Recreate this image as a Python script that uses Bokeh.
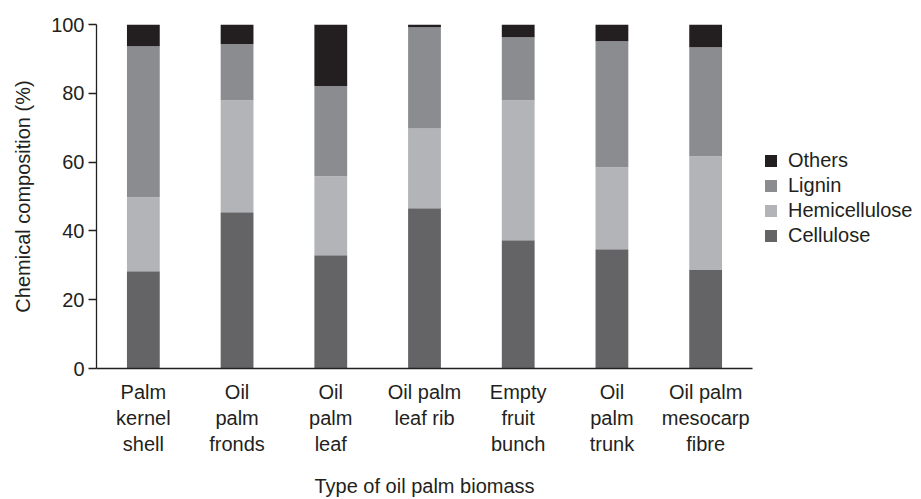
from bokeh.plotting import figure
from bokeh.models import FactorRange, Range1d, Legend, LegendItem, FixedTicker
from bokeh.embed import file_html
from bokeh.resources import INLINE

categories = ["Palm\nkernel\nshell", "Oil\npalm\nfronds", "Oil\npalm\nleaf", "Oil palm\nleaf rib",
              "Empty\nfruit\nbunch", "Oil\npalm\ntrunk", "Oil palm\nmesocarp\nfibre"]
cellulose = [28.3, 45.4, 32.9, 46.6, 37.3, 34.7, 28.6]
hemicellulose = [21.5, 32.6, 23.0, 23.2, 40.7, 23.8, 33.1]
lignin = [43.9, 16.3, 26.2, 29.4, 18.3, 36.6, 31.7]
others = [6.3, 5.7, 17.9, 0.8, 3.7, 4.9, 6.6]
y_ticks = [0, 20, 40, 60, 80, 100]

series = ["Cellulose", "Hemicellulose", "Lignin", "Others"]
colors = ["#646466", "#b3b4b7", "#8b8c90", "#231f20"]
data = {"cat": categories, "Cellulose": cellulose, "Hemicellulose": hemicellulose,
        "Lignin": lignin, "Others": others}

FONT = "Liberation Sans"
TXT = "#231f20"
FS = "20px"

p = figure(frame_width=656, frame_height=344, output_backend="svg", toolbar_location=None,
           x_range=FactorRange(factors=categories, range_padding=0),
           y_range=Range1d(0, 100),
           min_border_left=96, min_border_top=24, min_border_right=169, min_border_bottom=100)

rs = p.vbar_stack(series, x="cat", width=0.35, color=colors, line_color=None, source=data)

legend = Legend(items=[LegendItem(label=s, renderers=[r]) for s, r in reversed(list(zip(series, rs)))],
                location=(11, 121), orientation="vertical")
legend.glyph_width = 15
legend.glyph_height = 15
legend.label_standoff = 10
legend.spacing = 2
legend.padding = 0
legend.margin = 0
legend.border_line_color = None
legend.background_fill_alpha = 0
legend.label_text_font = FONT
legend.label_text_font_size = FS
legend.label_text_color = TXT
legend.label_height = 20
p.add_layout(legend, "right")

p.xgrid.grid_line_color = None
p.ygrid.grid_line_color = None
p.outline_line_color = None

for ax in (p.xaxis[0], p.yaxis[0]):
    ax.axis_line_color = TXT
    ax.axis_line_width = 1.3
    ax.major_label_text_font = FONT
    ax.major_label_text_font_size = FS
    ax.major_label_text_color = TXT
    ax.axis_label_text_font = FONT
    ax.axis_label_text_font_size = FS
    ax.axis_label_text_font_style = "normal"
    ax.axis_label_text_color = TXT
    ax.minor_tick_line_color = None

p.yaxis.ticker = FixedTicker(ticks=y_ticks)
p.yaxis.major_tick_out = 8
p.yaxis.major_tick_in = 0
p.yaxis.major_tick_line_color = TXT
p.yaxis.major_tick_line_width = 1.3
p.yaxis.major_label_standoff = 4
p.yaxis.axis_label = "Chemical composition (%)"
p.yaxis.axis_label_standoff = 14

p.xaxis.major_tick_line_color = None
p.xaxis.major_tick_out = 0
p.xaxis.major_label_standoff = 12
p.xaxis.major_label_text_line_height = 1.2
p.xaxis.axis_label = "Type of oil palm biomass"
p.xaxis.axis_label_standoff = 17

open("out.html", "w").write(file_html(p, INLINE))
